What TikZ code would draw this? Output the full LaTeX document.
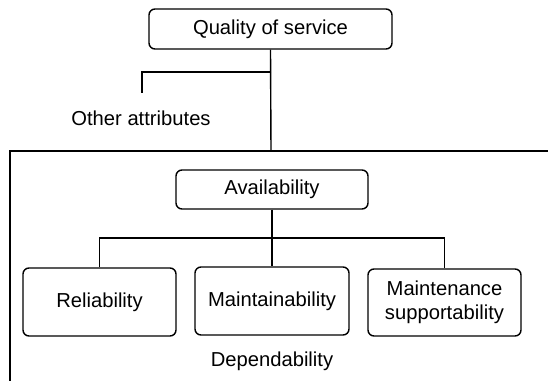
\documentclass[tikz,border=0pt]{standalone}
\usepackage{fontspec}
\setmainfont{Liberation Sans}
\begin{document}
\begin{tikzpicture}[x=1pt,y=-1pt,
  every node/.style={font=\fontsize{20.2}{24}\selectfont, inner sep=0pt, align=center},
  box/.style={draw, rounded corners=6pt, line width=1.4pt},
  conn/.style={line width=1.4pt}]
\useasboundingbox (0,0) rectangle (548,380);
% nodes
\node[box, minimum width=243pt, minimum height=40pt] (qos) at (270.5,29) {Quality of service};
\node (other) at (141,118) {Other attributes};
\node[box, minimum width=192pt, minimum height=39pt] (avail) at (272,189.5) {Availability};
\node[box, minimum width=153pt, minimum height=68pt] (rel) at (99.5,302) {Reliability};
\node[box, minimum width=154pt, minimum height=68pt] (maint) at (272,301) {Maintainability};
\node[box, minimum width=153pt, minimum height=67pt] (ms) at (444.5,302.5) {Maintenance\\supportability};
\node (dep) at (272,361) {Dependability};
% coordinates
\coordinate (ftop) at (271,151);
\coordinate (fleft) at (10,151);
\coordinate (fright) at (549,151);
\coordinate (fbottom) at (10,381);
\coordinate (branch) at (271,72);
\coordinate (otherend) at (142,93);
\coordinate (bus) at (272,238);
% frame
\draw[conn] (fright) -- (fleft) -- (fbottom);
% connectors
\draw[conn] (qos.south) -- (ftop);
\draw[conn] (branch) -| (otherend);
\draw[conn] (avail.south) -- (maint.north);
\draw[conn] (rel.north) |- (bus) -| (ms.north);
\end{tikzpicture}
\end{document}
